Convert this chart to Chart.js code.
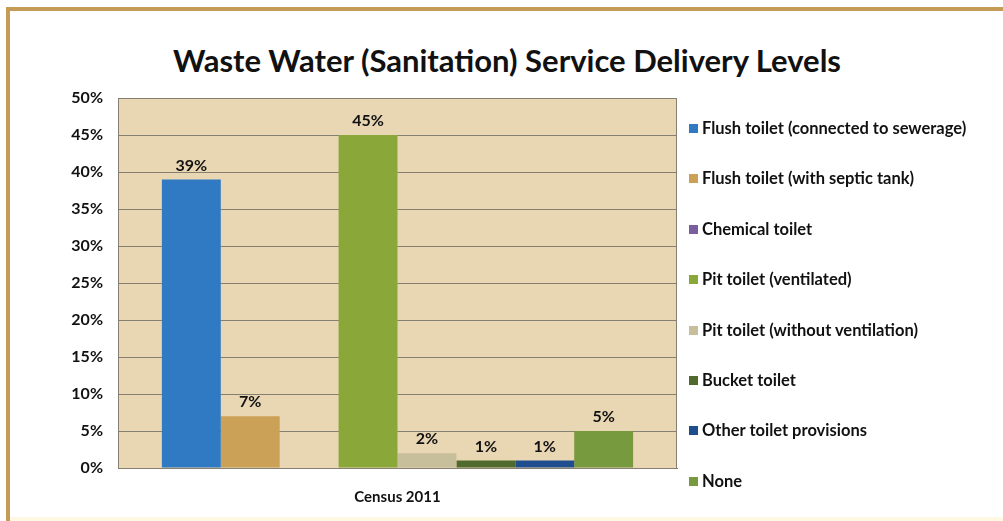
<!DOCTYPE html>
<html>
<head>
<meta charset="utf-8">
<script src="https://cdn.jsdelivr.net/npm/chart.js@4.4.1/dist/chart.umd.min.js"></script>
<style>
  html, body { margin: 0; padding: 0; background: #fff; }
  body { width: 1003px; height: 521px; position: relative; overflow: hidden; font-family: Lato, "Open Sans", sans-serif; }
  .frame-top { position: absolute; left: 6px; top: 7px; right: 0; height: 4px; background: #C49C55; }
  .frame-left { position: absolute; left: 6px; top: 7px; bottom: 0; width: 4px; background: #C49C55; }
  .frame-bottom { position: absolute; left: 10px; right: 0; bottom: 0; height: 4px; background: #FFF9E3; }
  #title { position: absolute; left: 0; width: 1014px; top: 40px; text-align: center; font-weight: 700; font-size: 31px; line-height: 40px; color: #111; }
  #wrap { position: absolute; left: 0; top: 0; width: 1003px; height: 521px; }
  #legend { position: absolute; left: 689px; top: 119px; }
  .item { height: 50.4px; display: flex; align-items: flex-start; font-weight: 700; font-size: 16.5px; line-height: 18px; color: #111; white-space: nowrap; }
  .sw { width: 9px; height: 9px; margin: 5px 4px 0 0; flex: none; }
</style>
</head>
<body>
<div class="frame-top"></div>
<div class="frame-left"></div>
<div class="frame-bottom"></div>
<div id="title">Waste Water (Sanitation) Service Delivery Levels</div>
<div id="wrap"><canvas id="chart" width="1003" height="521"></canvas></div>
<div id="legend"></div>
<script>
const categories = ['Census 2011'];
const seriesNames = [
  'Flush toilet (connected to sewerage)',
  'Flush toilet (with septic tank)',
  'Chemical toilet',
  'Pit toilet (ventilated)',
  'Pit toilet (without ventilation)',
  'Bucket toilet',
  'Other toilet provisions',
  'None'
];
const seriesValues = [39, 7, 0, 45, 2, 1, 1, 5];
const seriesColors = ['#2F7AC2', '#CBA158', '#7B5EA0', '#8AA83A', '#C7BE9B', '#4F6A2C', '#1F4E8E', '#779A3E'];
const yTicks = [0, 5, 10, 15, 20, 25, 30, 35, 40, 45, 50];

// legend built from the same series arrays
const legend = document.getElementById('legend');
seriesNames.forEach((name, i) => {
  const row = document.createElement('div');
  row.className = 'item';
  row.innerHTML = '<span class="sw" style="background:' + seriesColors[i] + '"></span><span>' + name + '</span>';
  legend.appendChild(row);
});

// wheat plot background with a grey frame
const plotBackground = {
  id: 'plotBackground',
  beforeDraw(chart) {
    const { ctx, chartArea: a } = chart;
    ctx.save();
    ctx.fillStyle = '#E9D7B4';
    ctx.fillRect(a.left, a.top, a.right - a.left, a.bottom - a.top);
    ctx.restore();
  },
  afterDatasetsDraw(chart) {
    const { ctx, chartArea: a } = chart;
    ctx.save();
    ctx.strokeStyle = '#858072';
    ctx.lineWidth = 1;
    ctx.strokeRect(a.left + 0.5, a.top + 0.5, a.right - a.left - 1, a.bottom - a.top);
    ctx.restore();
  }
};

// percentage labels above each non-zero bar
const valueLabels = {
  id: 'valueLabels',
  afterDatasetsDraw(chart) {
    const { ctx } = chart;
    ctx.save();
    ctx.font = 'bold 16px Lato, sans-serif';
    ctx.fillStyle = '#111';
    ctx.textAlign = 'center';
    ctx.textBaseline = 'bottom';
    chart.data.datasets.forEach((ds, i) => {
      const meta = chart.getDatasetMeta(i);
      meta.data.forEach((bar, j) => {
        const v = ds.data[j];
        if (!v) return;
        ctx.fillText(v + '%', bar.x, bar.y - 6);
      });
    });
    ctx.restore();
  }
};

new Chart(document.getElementById('chart'), {
  type: 'bar',
  data: {
    labels: categories,
    datasets: seriesNames.map((name, i) => ({
      label: name,
      data: [seriesValues[i]],
      backgroundColor: seriesColors[i],
      borderWidth: 0
    }))
  },
  options: {
    responsive: false,
    animation: false,
    categoryPercentage: 0.843,
    barPercentage: 1,
    layout: { padding: { left: 60, right: 326, top: 98, bottom: 3 } },
    plugins: {
      legend: { display: false },
      title: { display: false },
      tooltip: { enabled: false }
    },
    scales: {
      x: {
        grid: { display: false },
        border: { color: '#858072' },
        ticks: { color: '#111', font: { family: 'Lato', weight: 'bold', size: 15 }, padding: 12 }
      },
      y: {
        min: 0,
        max: 50,
        afterFit(scale) { scale.width = 58; },
        afterBuildTicks(scale) { scale.ticks = yTicks.map(v => ({ value: v })); },
        grid: { color: '#858072', drawTicks: false },
        border: { display: false },
        ticks: {
          color: '#111',
          padding: 15,
          font: { family: 'Lato', weight: 'bold', size: 16 },
          callback: v => v + '%'
        }
      }
    }
  },
  plugins: [plotBackground, valueLabels]
});
</script>
</body>
</html>
